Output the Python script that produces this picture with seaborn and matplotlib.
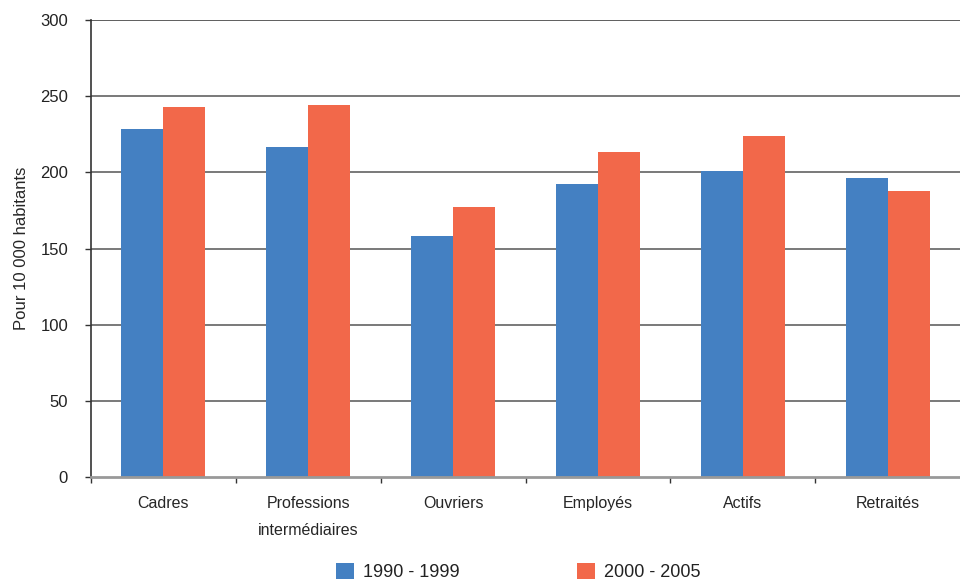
import matplotlib
matplotlib.use("Agg")
import matplotlib.pyplot as plt
from matplotlib.patches import Patch
import seaborn as sns
import pandas as pd

categories = ["Cadres", "Professions\nintermédiaires", "Ouvriers", "Employés", "Actifs", "Retraités"]
periods = ["1990 - 1999", "2000 - 2005"]
values_1990_1999 = [228.6, 216.8, 158.2, 192.4, 201.0, 196.4]
values_2000_2005 = [243.1, 244.4, 177.3, 213.5, 224.0, 187.8]
y_ticks = [0, 50, 100, 150, 200, 250, 300]

colors = ["#4480C2", "#F2684A"]

df = pd.DataFrame({
    "categorie": categories * 2,
    "periode": [periods[0]] * len(categories) + [periods[1]] * len(categories),
    "valeur": values_1990_1999 + values_2000_2005,
})

sns.set_theme(style="white")
plt.rcParams["font.family"] = ["Liberation Sans", "DejaVu Sans"]
plt.rcParams["text.color"] = "#222222"

fig = plt.figure(figsize=(9.6, 5.8), dpi=100)
ax = fig.add_axes([0.0948, 0.1784, 0.9052, 0.7863])

sns.barplot(data=df, x="categorie", y="valeur", hue="periode",
            palette=colors, width=0.58, saturation=1, ax=ax,
            order=categories, hue_order=periods, legend=False,
            linewidth=0, edgecolor="none", zorder=3)

ax.set_ylim(0, 300)
ax.set_xlim(-0.5, len(categories) - 0.5)
ax.set_yticks(y_ticks)
ax.set_yticklabels([str(v) for v in y_ticks], fontsize=12)

# horizontal gridlines
for v in y_ticks[1:]:
    ax.axhline(v, color="#333333" if v == 300 else "#555555", lw=1.1, zorder=1)

ax.set_xticks(range(len(categories)))
ax.set_xticklabels(categories, fontsize=11.5, linespacing=2.0, va="top")
ax.set_xticks([i - 0.5 for i in range(len(categories))], minor=True)
ax.tick_params(axis="x", which="major", length=0, pad=14)
ax.tick_params(axis="x", which="minor", length=4.5, width=1, color="#333333", bottom=True)
ax.tick_params(axis="y", which="major", length=4.5, width=1, color="#333333", left=True,
               pad=12, labelcolor="#222222")

ax.set_xlabel("")
ax.set_ylabel("Pour 10 000 habitants", fontsize=12, labelpad=8)

for side in ["top", "right"]:
    ax.spines[side].set_visible(False)
ax.spines["left"].set_color("#333333")
ax.spines["left"].set_linewidth(1.2)
ax.spines["bottom"].set_color("#999999")
ax.spines["bottom"].set_linewidth(2)
ax.spines["bottom"].set_zorder(4)

handles = [Patch(facecolor=c, edgecolor="none") for c in colors]
fig.legend(handles, periods, loc="lower center", bbox_to_anchor=(0.54, -0.03),
           ncol=2, frameon=False, fontsize=13, handlelength=1.0, handleheight=1.0,
           handletextpad=0.5, columnspacing=6.5)

fig.savefig("out.png", dpi=100)
